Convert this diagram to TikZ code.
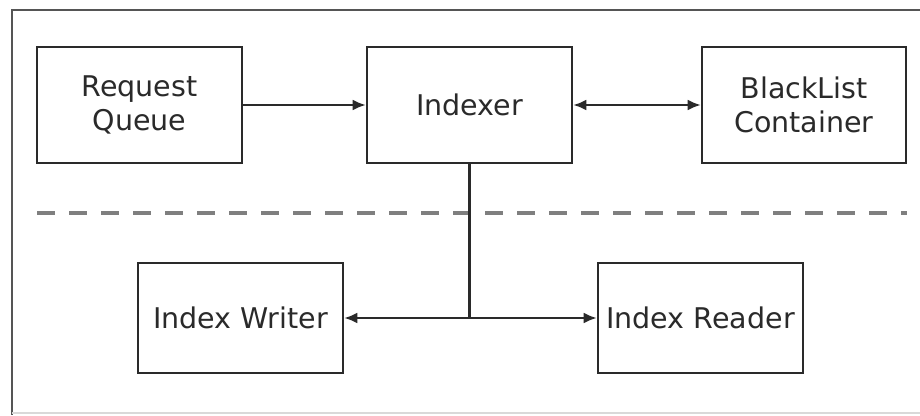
\documentclass[tikz,border=0pt]{standalone}
\usepackage{fontspec}
\setmainfont{DejaVu Sans}
\usetikzlibrary{arrows.meta}
\definecolor{inkgray}{HTML}{2A2A2A}
\definecolor{framegray}{HTML}{555555}
\definecolor{dashgray}{HTML}{7F7F7F}
\tikzset{
  tip/.tip={Latex[length=13pt,width=11pt]},
  block/.style={draw=inkgray, line width=2.6pt, fill=white, rectangle,
    minimum width=205pt, inner sep=0pt, align=center, text=inkgray,
    font=\fontsize{28.5}{34}\selectfont},
  tallblock/.style={block, minimum height=116pt},
  lowblock/.style={block, minimum height=110pt},
  link/.style={draw=inkgray, line width=2.2pt, -tip},
  twoway/.style={link, tip-tip}
}
\begin{document}
\begin{tikzpicture}[x=1pt,y=-1pt]
  \useasboundingbox (0,0) rectangle (920,415);
  \fill[white] (0,0) rectangle (920,415);

  % outer frame (open to the right)
  \draw[framegray, line width=2.6pt] (920,10) -- (12,10) -- (12,415);
  \draw[black!15, line width=1.5pt] (12,413) -- (920,413);

  % tier separator
  \draw[dashgray, line width=4pt, dash pattern=on 18pt off 14pt] (37,213) -- (907,213);

  % components
  \node[tallblock] (rq) at (139.5,105) {Request\\Queue};
  \node[tallblock] (idx) at (469.5,105) {Indexer};
  \node[tallblock, minimum width=204pt] (bl) at (804,105) {BlackList\\Container};
  \node[lowblock] (iw) at (240.5,318) {Index Writer};
  \node[lowblock] (ir) at (700.5,318) {Index Reader};

  % connections
  \draw[link] (rq) -- (idx);
  \draw[twoway] (idx) -- (bl);
  \coordinate (split) at (idx.south |- iw.east);
  \draw[inkgray, line width=2.2pt] (idx.south) -- (split);
  \draw[link] (split) -- (iw.east);
  \draw[link] (split) -- (ir.west);
\end{tikzpicture}
\end{document}
